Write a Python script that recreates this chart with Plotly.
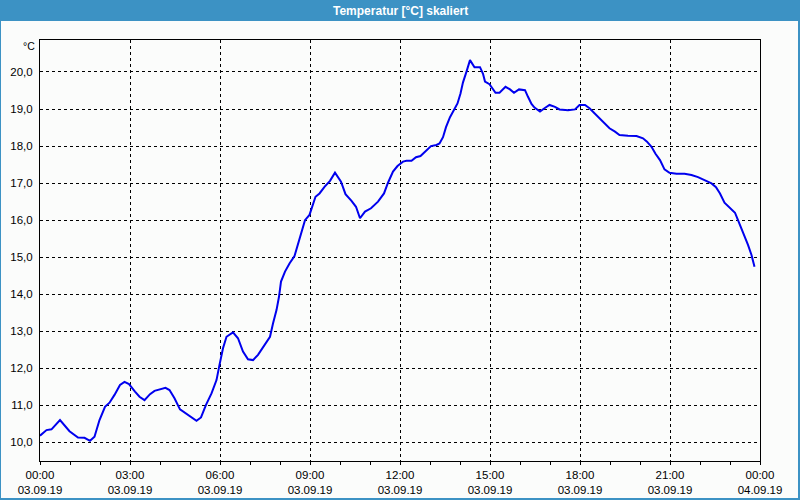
import pandas as pd
import plotly.graph_objects as go

# ---- data ----
times = [
    "00:00", "00:13", "00:23", "00:40", "00:59", "01:16", "01:29", "01:40", "01:49", "01:59",
    "02:10", "02:19", "02:29", "02:40", "02:49", "02:58", "03:10", "03:19", "03:29", "03:40",
    "03:49", "04:00", "04:11", "04:19", "04:29", "04:40", "04:49", "05:02", "05:13", "05:22",
    "05:32", "05:43", "05:53", "05:59", "06:06", "06:13", "06:26", "06:36", "06:46", "06:56",
    "07:06", "07:16", "07:29", "07:40", "07:46", "07:53", "07:58", "08:02", "08:10", "08:19",
    "08:29", "08:36", "08:43", "08:50", "08:59", "09:06", "09:11", "09:19", "09:29", "09:40",
    "09:50", "10:02", "10:11", "10:23", "10:32", "10:40", "10:50", "11:02", "11:16", "11:28",
    "11:36", "11:46", "11:55", "12:06", "12:13", "12:23", "12:32", "12:41", "12:53", "13:02",
    "13:13", "13:19", "13:26", "13:32", "13:40", "13:46", "13:55", "14:01", "14:06", "14:13",
    "14:20", "14:29", "14:40", "14:46", "14:50", "14:59", "15:11", "15:19", "15:31", "15:40",
    "15:48", "15:58", "16:10", "16:16", "16:23", "16:29", "16:40", "16:49", "16:59", "17:10",
    "17:19", "17:36", "17:50", "17:59", "18:10", "18:19", "18:29", "18:40", "18:49", "18:59",
    "19:10", "19:19", "19:36", "19:53", "20:06", "20:14", "20:23", "20:31", "20:40", "20:49",
    "20:59", "21:13", "21:29", "21:43", "21:56", "22:10", "22:23", "22:32", "22:40", "22:49",
    "22:59", "23:10", "23:16", "23:23", "23:29", "23:36", "23:43", "23:49",
]
temps = [
    10.18, 10.33, 10.35, 10.60, 10.30, 10.13, 10.12, 10.04, 10.15, 10.60,
    10.96, 11.07, 11.28, 11.55, 11.63, 11.57, 11.37, 11.23, 11.14, 11.30,
    11.39, 11.43, 11.47, 11.41, 11.19, 10.89, 10.81, 10.69, 10.58, 10.67,
    11.01, 11.32, 11.68, 12.09, 12.54, 12.85, 12.97, 12.81, 12.45, 12.24,
    12.22, 12.36, 12.63, 12.85, 13.21, 13.57, 13.93, 14.34, 14.61, 14.83,
    15.03, 15.37, 15.73, 16.00, 16.14, 16.45, 16.63, 16.72, 16.90, 17.06,
    17.28, 17.04, 16.70, 16.52, 16.36, 16.05, 16.23, 16.32, 16.50, 16.72,
    17.01, 17.31, 17.46, 17.58, 17.60, 17.60, 17.70, 17.73, 17.87, 18.00,
    18.03, 18.07, 18.24, 18.51, 18.78, 18.93, 19.15, 19.42, 19.72, 20.01,
    20.32, 20.13, 20.13, 19.95, 19.74, 19.67, 19.44, 19.44, 19.60, 19.53,
    19.44, 19.53, 19.51, 19.33, 19.14, 19.04, 18.93, 19.02, 19.11, 19.06,
    18.99, 18.97, 18.99, 19.11, 19.11, 19.02, 18.88, 18.73, 18.61, 18.48,
    18.39, 18.30, 18.28, 18.27, 18.21, 18.12, 17.98, 17.79, 17.62, 17.37,
    17.28, 17.25, 17.25, 17.22, 17.16, 17.08, 16.99, 16.89, 16.72, 16.47,
    16.35, 16.20, 16.00, 15.78, 15.55, 15.33, 15.06, 14.74,
]
date = "2019-09-03"
tick_times = ["2019-09-03 00:00", "2019-09-03 03:00", "2019-09-03 06:00", "2019-09-03 09:00",
              "2019-09-03 12:00", "2019-09-03 15:00", "2019-09-03 18:00", "2019-09-03 21:00",
              "2019-09-04 00:00"]
tick_labels = ["00:00<br>03.09.19", "03:00<br>03.09.19", "06:00<br>03.09.19", "09:00<br>03.09.19",
               "12:00<br>03.09.19", "15:00<br>03.09.19", "18:00<br>03.09.19", "21:00<br>03.09.19",
               "00:00<br>04.09.19"]
y_ticks = [10, 11, 12, 13, 14, 15, 16, 17, 18, 19, 20]
title_text = "Temperatur [°C] skaliert"
unit_text = "°C"

x = pd.to_datetime([f"{date} {t}" for t in times])

# ---- layout helpers (pixel -> paper) ----
L, R, T, B = 40, 760, 40, 461
def px(v):
    return (v - L) / (R - L)
def py(v):
    return (B - v) / (B - T)

BLUE = "#3c92c4"
BG = "#fbfcfb"
FONT = "Liberation Sans"

fig = go.Figure()
fig.add_trace(go.Scatter(x=x, y=temps, mode="lines",
                         line=dict(color="#0000ee", width=2), hoverinfo="skip"))

fig.update_layout(
    width=800, height=500,
    margin=dict(l=L, r=800 - R, t=T, b=500 - B, pad=0, autoexpand=False),
    paper_bgcolor=BG, plot_bgcolor=BG,
    showlegend=False,
    separators=",.",
    font=dict(family=FONT, size=11, color="#000000"),
    xaxis=dict(
        range=["2019-09-03 00:00", "2019-09-04 00:00"],
        tickmode="array", tickvals=tick_times, ticktext=tick_labels,
        showgrid=True, gridcolor="#000000", gridwidth=1, griddash="3px,3px",
        showline=True, linecolor="#000000", linewidth=1, mirror=True,
        ticks="outside", ticklen=3, tickcolor="#000000",
        minor=dict(dtick=3600000, tick0="2019-09-03 00:00", ticks="outside",
                   ticklen=3, tickcolor="#000000", showgrid=False),
        zeroline=False, fixedrange=True, automargin=False,
        tickfont=dict(family=FONT, size=11.5),
    ),
    yaxis=dict(
        range=[9.495, 20.864],
        tickmode="array", tickvals=y_ticks, tickformat=".1f",
        showgrid=True, gridcolor="#000000", gridwidth=1, griddash="3px,3px",
        showline=True, linecolor="#000000", linewidth=1, mirror=True,
        ticks="", zeroline=False, fixedrange=True, automargin=False,
        ticklabelstandoff=4,
        tickfont=dict(family=FONT, size=11.5),
    ),
    shapes=[
        dict(type="rect", xref="paper", yref="paper",
             x0=px(0), x1=px(800), y0=py(21), y1=py(0),
             fillcolor=BLUE, line=dict(width=0), layer="above"),
        dict(type="rect", xref="paper", yref="paper",
             x0=px(0), x1=px(799), y0=py(499), y1=py(0),
             fillcolor="rgba(0,0,0,0)", line=dict(color=BLUE, width=2), layer="above"),
    ],
    annotations=[
        dict(xref="paper", yref="paper", x=px(37), y=py(46), text=unit_text,
             showarrow=False, xanchor="right", yanchor="middle",
             font=dict(family=FONT, size=10.5, color="#000000")),
        dict(xref="paper", yref="paper", x=px(400), y=py(10.5), text=f"<b>{title_text}</b>",
             showarrow=False, xanchor="center", yanchor="middle",
             font=dict(family=FONT, size=12, color="#ffffff")),
    ],
)

fig.write_html("out.html")
